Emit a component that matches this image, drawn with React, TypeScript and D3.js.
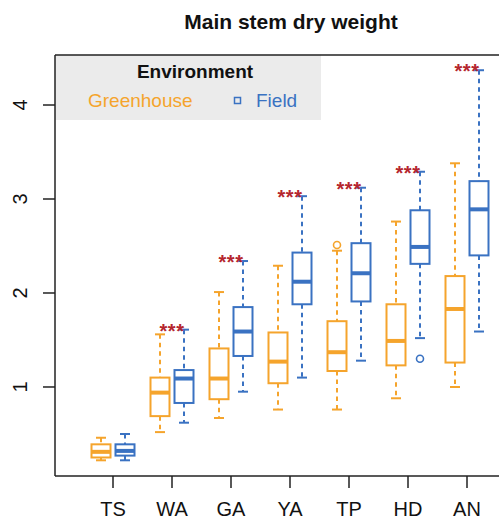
import React from "react";
import * as d3 from "d3";

// Growth stages on the x axis
const stages = ["TS", "WA", "GA", "YA", "TP", "HD", "AN"];

// Greenhouse five-number summaries per stage
const ghLow = [0.22, 0.52, 0.67, 0.76, 0.76, 0.88, 1.0];
const ghQ1 = [0.25, 0.69, 0.87, 1.04, 1.17, 1.23, 1.26];
const ghMed = [0.31, 0.94, 1.09, 1.27, 1.37, 1.49, 1.83];
const ghQ3 = [0.39, 1.1, 1.41, 1.58, 1.7, 1.88, 2.18];
const ghHigh = [0.46, 1.56, 2.01, 2.29, 2.45, 2.76, 3.38];
const ghOutliers: number[][] = [[], [], [], [], [2.51], [], []];

// Field five-number summaries per stage
const fdLow = [0.22, 0.62, 0.95, 1.1, 1.28, 1.52, 1.59];
const fdQ1 = [0.27, 0.83, 1.33, 1.88, 1.91, 2.31, 2.4];
const fdMed = [0.32, 1.09, 1.59, 2.12, 2.21, 2.49, 2.89];
const fdQ3 = [0.39, 1.18, 1.85, 2.43, 2.53, 2.88, 3.19];
const fdHigh = [0.5, 1.61, 2.34, 3.03, 3.12, 3.29, 4.37];
const fdOutliers: number[][] = [[], [], [], [], [], [1.3], []];

// Significance marks per stage
const signif = ["", "***", "***", "***", "***", "***", "***"];

const yTicks = [1, 2, 3, 4];

const ORANGE = "#F5A42C";
const BLUE = "#3A72C2";
const STAR = "#B5262E";
const FONT = "'Liberation Sans', Arial, Helvetica, sans-serif";

const W = 499;
const H = 520;
const left = 55;
const top = 55;
const bottom = 476;

export default function App() {
  const x = d3.scalePoint<string>().domain(stages).range([113, 467]);
  const y = d3.scaleLinear().domain([0.053, 4.532]).range([bottom, top]);
  const boxW = 19;
  const offset = 12;
  const capW = 10;

  const series = [
    { name: "Greenhouse", color: ORANGE, dx: -offset, low: ghLow, q1: ghQ1, med: ghMed, q3: ghQ3, high: ghHigh, out: ghOutliers },
    { name: "Field", color: BLUE, dx: offset, low: fdLow, q1: fdQ1, med: fdMed, q3: fdQ3, high: fdHigh, out: fdOutliers },
  ];

  return (
    <svg width={W} height={H} style={{ position: "absolute", left: 0, top: 0 }} fontFamily={FONT}>
      <rect x={0} y={0} width={W} height={H} fill="#fff" />
      <text x={291} y={29} textAnchor="middle" fontSize={21} fontWeight="bold" fill="#111">
        Main stem dry weight
      </text>

      {/* legend panel */}
      <rect x={left} y={top} width={266} height={65} fill="#EBEBEB" />
      <text x={195} y={78} textAnchor="middle" fontSize={19} fontWeight="bold" fill="#111">
        Environment
      </text>
      <text x={88} y={107} fontSize={19} fill={ORANGE}>
        Greenhouse
      </text>
      <rect x={234.5} y={97.5} width={6} height={6} fill="none" stroke={BLUE} strokeWidth={1.5} />
      <text x={256} y={107} fontSize={19} fill={BLUE}>
        Field
      </text>

      {/* boxes */}
      {series.map((s) =>
        stages.map((st, i) => {
          const cx = (x(st) as number) + s.dx;
          return (
            <g key={s.name + st}>
              <line x1={cx} x2={cx} y1={y(s.high[i])} y2={y(s.q3[i])} stroke={s.color} strokeWidth={2} strokeDasharray="4.5,4" />
              <line x1={cx} x2={cx} y1={y(s.q1[i])} y2={y(s.low[i])} stroke={s.color} strokeWidth={2} strokeDasharray="4.5,4" />
              <line x1={cx - capW / 2} x2={cx + capW / 2} y1={y(s.high[i])} y2={y(s.high[i])} stroke={s.color} strokeWidth={2} />
              <line x1={cx - capW / 2} x2={cx + capW / 2} y1={y(s.low[i])} y2={y(s.low[i])} stroke={s.color} strokeWidth={2} />
              <rect x={cx - boxW / 2} y={y(s.q3[i])} width={boxW} height={y(s.q1[i]) - y(s.q3[i])} fill="#fff" stroke={s.color} strokeWidth={2} />
              <line x1={cx - boxW / 2} x2={cx + boxW / 2} y1={y(s.med[i])} y2={y(s.med[i])} stroke={s.color} strokeWidth={4} />
              {s.out[i].map((o, k) => (
                <circle key={k} cx={cx} cy={y(o)} r={3.5} fill="none" stroke={s.color} strokeWidth={1.6} />
              ))}
            </g>
          );
        })
      )}

      {/* significance stars */}
      {stages.map((st, i) =>
        signif[i] ? (
          <text key={"s" + st} x={x(st) as number} y={y(fdHigh[i]) + 8} textAnchor="middle" fontSize={20} fontWeight="bold" letterSpacing={0.5} fill={STAR}>
            {signif[i]}
          </text>
        ) : null
      )}

      {/* frame */}
      <line x1={left} x2={left} y1={top} y2={bottom} stroke="#222" strokeWidth={1.5} />
      <line x1={left} x2={W} y1={top} y2={top} stroke="#222" strokeWidth={1.5} />
      <line x1={left} x2={W} y1={bottom} y2={bottom} stroke="#222" strokeWidth={1.5} />

      {/* y axis */}
      {yTicks.map((t) => (
        <g key={"y" + t}>
          <line x1={43} x2={left} y1={y(t)} y2={y(t)} stroke="#222" strokeWidth={1.5} />
          <text transform={`translate(27,${y(t)}) rotate(-90)`} textAnchor="middle" fontSize={20} fill="#111">
            {t}
          </text>
        </g>
      ))}

      {/* x axis */}
      {stages.map((st) => (
        <g key={"x" + st}>
          <line x1={x(st) as number} x2={x(st) as number} y1={bottom} y2={488} stroke="#222" strokeWidth={1.5} />
          <text x={x(st) as number} y={516} textAnchor="middle" fontSize={20} fill="#111">
            {st}
          </text>
        </g>
      ))}
    </svg>
  );
}
